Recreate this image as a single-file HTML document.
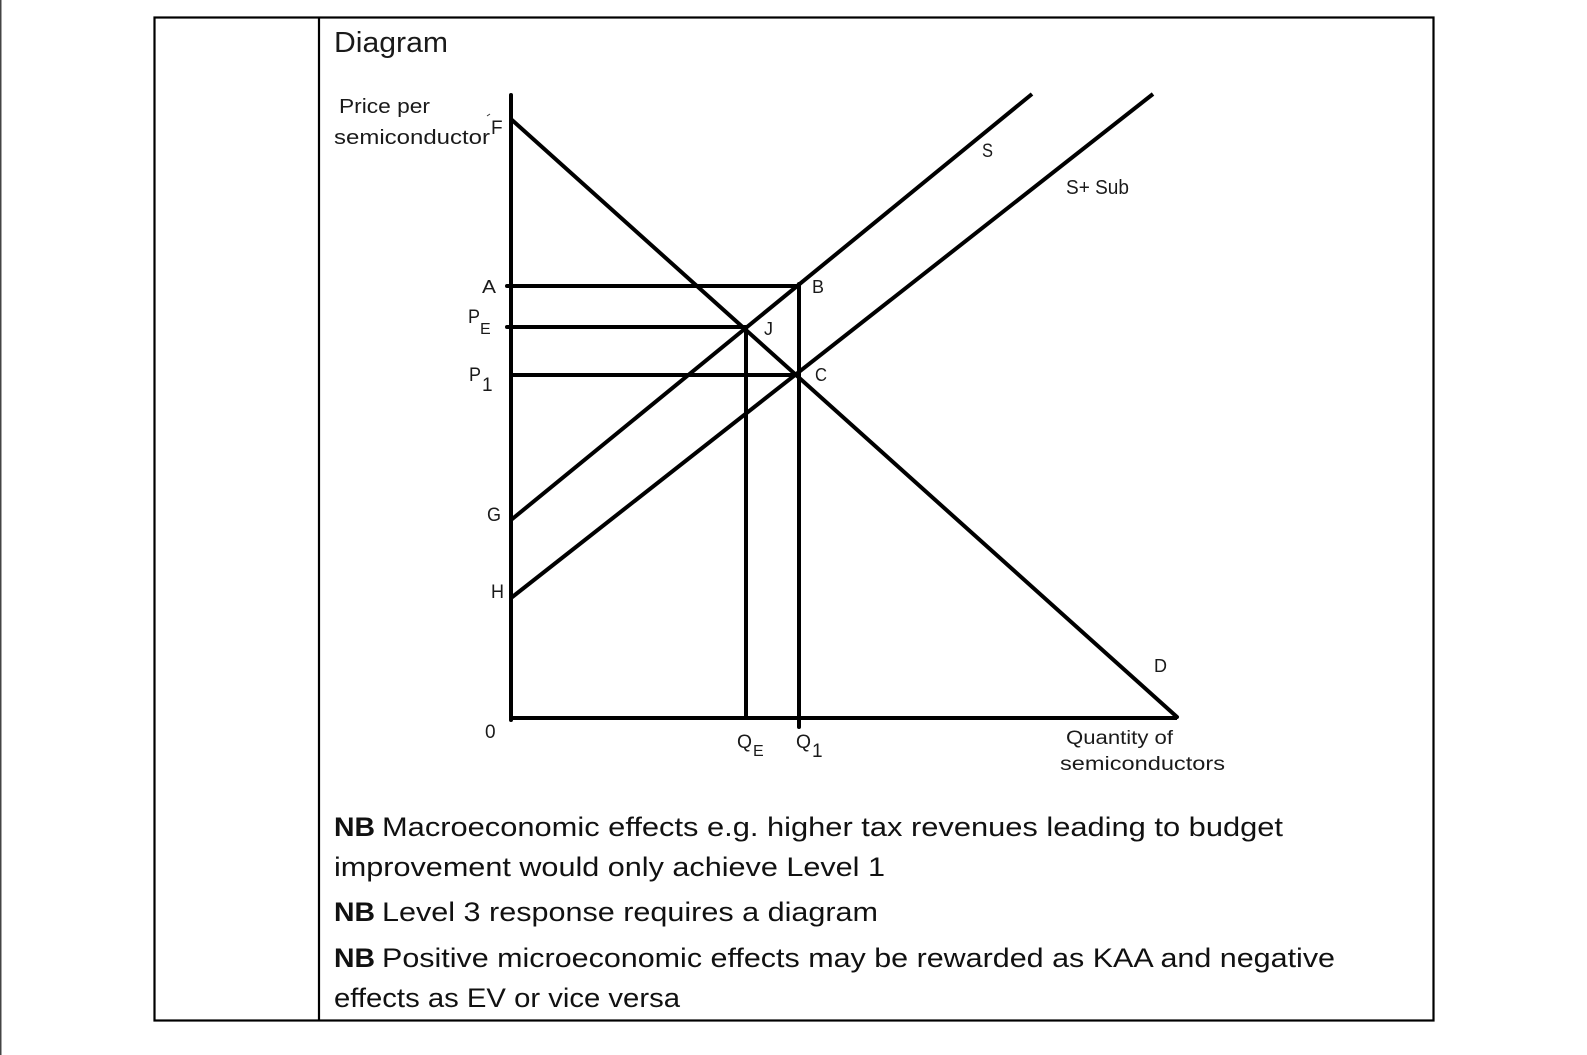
<!DOCTYPE html>
<html>
<head>
<meta charset="utf-8">
<style>
  html,body{margin:0;padding:0;background:#fff;}
  body{width:1587px;height:1055px;overflow:hidden;}
  svg{display:block;}
  .lbl{font-family:"Liberation Sans","DejaVu Sans",sans-serif;fill:#1a1a1a;}
  .body{font-family:"Liberation Sans","DejaVu Sans",sans-serif;fill:#111;font-size:27px;}
</style>
</head>
<body>
<svg width="1587" height="1055" viewBox="0 0 1587 1055" xmlns="http://www.w3.org/2000/svg">
  <rect x="0" y="0" width="1587" height="1055" fill="#fff"/>
  <!-- left edge gray line -->
  <rect x="0" y="0" width="1.5" height="1055" fill="#444"/>

  <!-- table borders -->
  <rect x="154.5" y="17.5" width="1279" height="1003" fill="none" stroke="#000" stroke-width="2.2"/>
  <line x1="319" y1="17" x2="319" y2="1021" stroke="#000" stroke-width="2.2"/>

  <!-- Title -->
  <text class="lbl" x="334" y="52" font-size="29" textLength="114" lengthAdjust="spacingAndGlyphs">Diagram</text>

  <!-- axis labels -->
  <text class="lbl" x="339" y="113" font-size="20" textLength="91" lengthAdjust="spacingAndGlyphs">Price per</text>
  <text class="lbl" x="334" y="144" font-size="20" textLength="156" lengthAdjust="spacingAndGlyphs">semiconductor</text>
  <text class="lbl" x="491" y="134" font-size="19">F</text>
  <line x1="487" y1="116" x2="490" y2="114" stroke="#333" stroke-width="1"/>

  <!-- chart lines -->
  <g stroke="#000" stroke-width="4" fill="none">
    <!-- axes -->
    <line x1="511" y1="95" x2="511" y2="720" stroke-linecap="round"/>
    <line x1="509" y1="718" x2="1177" y2="718"/>
    <!-- demand -->
    <line x1="512" y1="120" x2="1177" y2="717" stroke-linecap="round"/>
    <!-- supply S -->
    <line x1="511" y1="520" x2="1032" y2="94"/>
    <!-- S + Sub -->
    <line x1="511" y1="598" x2="1153" y2="94"/>
    <!-- horizontals -->
    <line x1="507" y1="286" x2="799" y2="286" stroke-linecap="round"/>
    <line x1="507" y1="327" x2="746" y2="327" stroke-linecap="round"/>
    <line x1="511" y1="375" x2="799" y2="375"/>
    <!-- verticals -->
    <line x1="746" y1="327" x2="746" y2="720"/>
    <line x1="799" y1="284" x2="799" y2="727" stroke-linecap="round"/>
  </g>

  <!-- point labels -->
  <text class="lbl" x="482" y="293" font-size="18" textLength="14" lengthAdjust="spacingAndGlyphs">A</text>
  <text class="lbl" x="468" y="323" font-size="19" textLength="12" lengthAdjust="spacingAndGlyphs">P</text>
  <text class="lbl" x="480" y="334" font-size="16">E</text>
  <text class="lbl" x="469" y="381" font-size="19" textLength="12" lengthAdjust="spacingAndGlyphs">P</text>
  <text class="lbl" x="482" y="391" font-size="19">1</text>
  <text class="lbl" x="487" y="521" font-size="19" textLength="14" lengthAdjust="spacingAndGlyphs">G</text>
  <text class="lbl" x="491" y="598" font-size="19" textLength="13" lengthAdjust="spacingAndGlyphs">H</text>
  <text class="lbl" x="485" y="738" font-size="19">0</text>

  <text class="lbl" x="737" y="748" font-size="19" textLength="15" lengthAdjust="spacingAndGlyphs">Q</text>
  <text class="lbl" x="753" y="756" font-size="16">E</text>
  <text class="lbl" x="796" y="748" font-size="19" textLength="15" lengthAdjust="spacingAndGlyphs">Q</text>
  <text class="lbl" x="812" y="757" font-size="19">1</text>

  <text class="lbl" x="812" y="293" font-size="18" textLength="12" lengthAdjust="spacingAndGlyphs">B</text>
  <text class="lbl" x="764" y="335" font-size="18">J</text>
  <text class="lbl" x="815" y="381" font-size="18" textLength="12" lengthAdjust="spacingAndGlyphs">C</text>
  <text class="lbl" x="1154" y="672" font-size="18" textLength="13" lengthAdjust="spacingAndGlyphs">D</text>
  <text class="lbl" x="982" y="157" font-size="19" textLength="11" lengthAdjust="spacingAndGlyphs">S</text>
  <text class="lbl" x="1066" y="194" font-size="20" textLength="63" lengthAdjust="spacingAndGlyphs">S+ Sub</text>

  <text class="lbl" x="1066" y="744" font-size="19" textLength="107" lengthAdjust="spacingAndGlyphs">Quantity of</text>
  <text class="lbl" x="1060" y="770" font-size="19" textLength="165" lengthAdjust="spacingAndGlyphs">semiconductors</text>

  <!-- body notes -->
  <text class="body" x="334" y="836" font-weight="bold" textLength="41" lengthAdjust="spacingAndGlyphs">NB</text>
  <text class="body" x="382" y="836" textLength="901" lengthAdjust="spacingAndGlyphs">Macroeconomic effects e.g. higher tax revenues leading to budget</text>
  <text class="body" x="334" y="876" textLength="551" lengthAdjust="spacingAndGlyphs">improvement would only achieve Level 1</text>

  <text class="body" x="334" y="921" font-weight="bold" textLength="41" lengthAdjust="spacingAndGlyphs">NB</text>
  <text class="body" x="382" y="921" textLength="496" lengthAdjust="spacingAndGlyphs">Level 3 response requires a diagram</text>

  <text class="body" x="334" y="967" font-weight="bold" textLength="41" lengthAdjust="spacingAndGlyphs">NB</text>
  <text class="body" x="382" y="967" textLength="953" lengthAdjust="spacingAndGlyphs">Positive microeconomic effects may be rewarded as KAA and negative</text>
  <text class="body" x="334" y="1007" textLength="346" lengthAdjust="spacingAndGlyphs">effects as EV or vice versa</text>
</svg>
</body>
</html>
